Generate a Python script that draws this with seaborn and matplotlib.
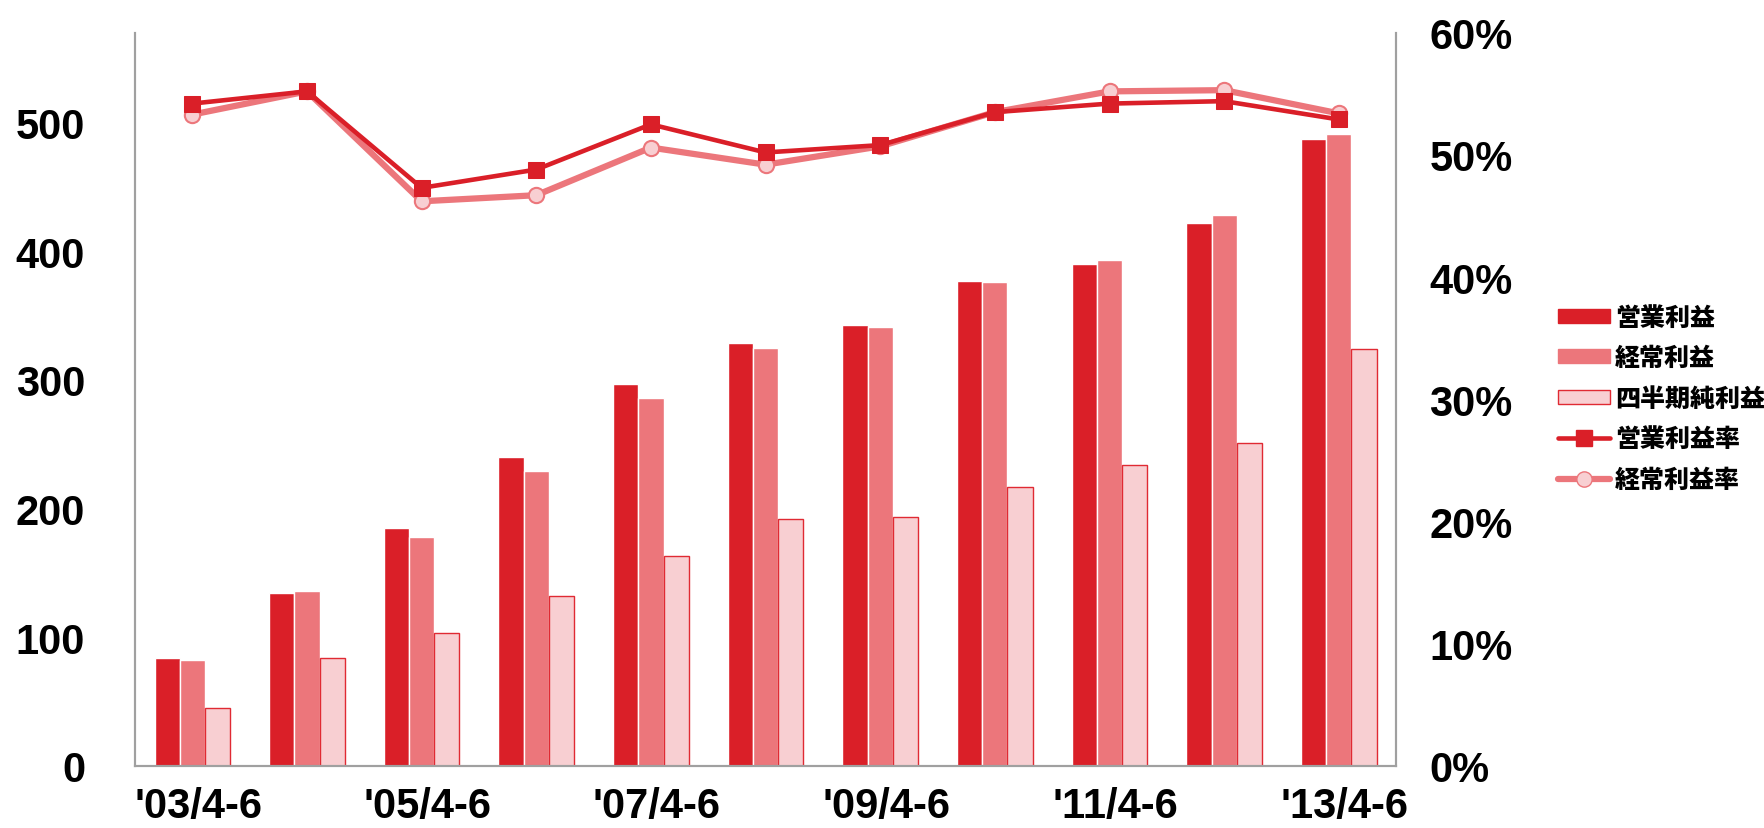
import numpy as np
import pandas as pd
import matplotlib
matplotlib.use("Agg")
import matplotlib.pyplot as plt
from matplotlib.ticker import FuncFormatter
from matplotlib.lines import Line2D
from matplotlib.patches import Patch
from matplotlib.transforms import ScaledTranslation
import seaborn as sns

# quarterly data, Apr-Jun of each year
periods = ["'03/4-6", "'04/4-6", "'05/4-6", "'06/4-6", "'07/4-6", "'08/4-6",
           "'09/4-6", "'10/4-6", "'11/4-6", "'12/4-6", "'13/4-6"]
op_profit = [84, 134, 185, 240, 297, 329, 343, 377, 390, 422, 487]
ord_profit = [82, 136, 178, 229, 286, 325, 341, 376, 393, 428, 491]
net_profit = [45, 84, 103, 132, 163, 192, 193, 217, 234, 251, 324]
op_margin = [54.2, 55.2, 47.3, 48.8, 52.5, 50.2, 50.8, 53.5, 54.2, 54.4, 52.9]
ord_margin = [53.3, 55.2, 46.2, 46.7, 50.6, 49.2, 50.7, 53.5, 55.2, 55.3, 53.4]

bar_names = ["営業利益", "経常利益", "四半期純利益"]
line_names = ["営業利益率", "経常利益率"]

c_op = "#DA1F28"
c_ord = "#EC767B"
c_net = "#F8CFD2"
c_edge = "#E02A33"

sns.set_style("white")
plt.rcParams["font.family"] = ["Liberation Sans", "Noto Sans CJK JP", "DejaVu Sans"]
plt.rcParams["text.color"] = "black"
plt.rcParams["xtick.color"] = "black"
plt.rcParams["ytick.color"] = "black"

df = pd.DataFrame({
    "period": periods * 3,
    "item": [bar_names[0]] * 11 + [bar_names[1]] * 11 + [bar_names[2]] * 11,
    "value": op_profit + ord_profit + net_profit,
})

fig = plt.figure(figsize=(17.65, 8.29), dpi=100)
ax = fig.add_axes([0.0765, 0.0752, 0.7145, 0.8841])

sns.barplot(data=df, x="period", y="value", hue="item", order=periods,
            hue_order=bar_names, palette=[c_op, c_ord, c_net], saturation=1,
            width=0.66, ax=ax, legend=False)
for p in ax.containers[2]:
    p.set_edgecolor(c_edge)
    p.set_linewidth(1.0)

ax.set_ylim(0, 570)
ax.set_xlim(-0.5, 10.5)
ax.set_yticks([0, 100, 200, 300, 400, 500])
ax.set_xlabel("")
ax.set_ylabel("")
ax.set_xticks(range(0, 11, 2))
ax.set_xticklabels(periods[::2])
ax.tick_params(axis="y", length=0, pad=36, labelsize=30, labelcolor="black")
ax.tick_params(axis="x", length=0, pad=15, labelsize=30, labelcolor="black")
shift = ScaledTranslation(6 / 100, 0, fig.dpi_scale_trans)
for lab in ax.get_xticklabels():
    lab.set_fontweight("bold")
    lab.set_transform(lab.get_transform() + shift)
for lab in ax.get_yticklabels():
    lab.set_fontweight("bold")

ax2 = ax.twinx()
idx = np.arange(len(periods))
sns.lineplot(x=idx, y=np.array(ord_margin) / 100, ax=ax2, color=c_ord,
             linewidth=4.5, marker="o", markersize=11, markerfacecolor=c_net,
             markeredgecolor=c_ord, markeredgewidth=1.5)
sns.lineplot(x=idx, y=np.array(op_margin) / 100, ax=ax2, color=c_op,
             linewidth=3.3, marker="s", markersize=12, markerfacecolor=c_op,
             markeredgecolor=c_op)
ax2.set_ylim(0, 0.6)
ax2.set_yticks(np.arange(0, 0.61, 0.1))
ax2.yaxis.set_major_formatter(FuncFormatter(lambda v, _: f"{v * 100:.0f}%"))
ax2.tick_params(axis="y", length=0, pad=24, labelsize=30, labelcolor="black")
for lab in ax2.get_yticklabels():
    lab.set_fontweight("bold")
ax2.set_xlim(-0.5, 10.5)

for a in (ax, ax2):
    a.spines["top"].set_visible(False)
    for s in ("left", "right", "bottom"):
        a.spines[s].set_color("#A0A0A0")
        a.spines[s].set_linewidth(1.5)

handles = [
    Patch(facecolor=c_op, edgecolor=c_op),
    Patch(facecolor=c_ord, edgecolor=c_ord),
    Patch(facecolor=c_net, edgecolor=c_edge),
    Line2D([], [], color=c_op, linewidth=3.3, marker="s", markersize=12),
    Line2D([], [], color=c_ord, linewidth=4.5, marker="o", markersize=11,
           markerfacecolor=c_net, markeredgecolor=c_ord),
]
fig.legend(handles, bar_names + line_names, loc="center left",
           bbox_to_anchor=(0.8754, 0.519), frameon=False, borderpad=0,
           prop={"family": ["Noto Sans CJK JP"], "weight": "heavy", "size": 18},
           handlelength=2.1, handleheight=0.5, labelspacing=0.58, handletextpad=0.2)

fig.savefig("out.png", dpi=100)
